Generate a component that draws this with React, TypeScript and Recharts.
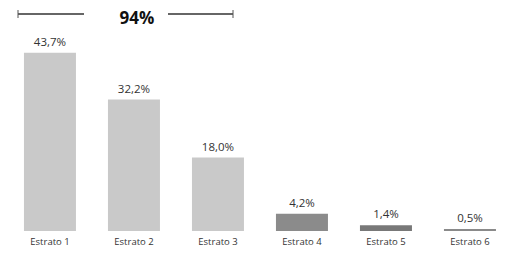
import React from 'react';
import { BarChart, Bar, XAxis, YAxis, LabelList, Cell } from 'recharts';

const categories = ['Estrato 1', 'Estrato 2', 'Estrato 3', 'Estrato 4', 'Estrato 5', 'Estrato 6'];
const shares = [43.7, 32.2, 18.0, 4.2, 1.4, 0.5];
const barColors = ['#c9c9c9', '#c9c9c9', '#c9c9c9', '#8b8b8b', '#787878', '#8a8a8a'];
const totalLabel = '94%';

const data = categories.map((name, i) => ({ name, value: shares[i] }));

const fmt = (v: any) => `${Number(v).toFixed(1).replace('.', ',')}%`;

const App: React.FC = () => {
  return (
    <div style={{ position: 'relative', width: 504, height: 248, fontFamily: '"Open Sans", sans-serif' }}>
      <BarChart width={504} height={248} data={data} barCategoryGap="19%"
        margin={{ top: 19, right: 0, bottom: 5, left: 0 }}>
        <XAxis dataKey="name" axisLine={false} tickLine={false} tickSize={0} tickMargin={7} height={20}
          interval={0} tick={{ fontSize: 9.5, fill: '#333' }} />
        <YAxis hide domain={[0, 50]} />
        <Bar dataKey="value" isAnimationActive={false}>
          {data.map((d, i) => <Cell key={d.name} fill={barColors[i]} />)}
          <LabelList dataKey="value" position="top" offset={7} formatter={fmt}
            style={{ fontSize: 11.5, fill: '#333' }} />
        </Bar>
      </BarChart>
      {/* bracket over the first three strata */}
      <svg width={504} height={48} style={{ position: 'absolute', left: 0, top: -8, pointerEvents: 'none' }}>
        <line x1={10} y1={14} x2={76} y2={14} stroke="#333" strokeWidth={1.5} />
        <line x1={10} y1={10} x2={10} y2={18} stroke="#555" strokeWidth={1} />
        <line x1={160} y1={14} x2={225} y2={14} stroke="#333" strokeWidth={1.5} />
        <line x1={225} y1={10} x2={225} y2={18} stroke="#555" strokeWidth={1} />
        <text x={129} y={24} textAnchor="middle" fontSize={17} fontWeight={700} fill="#111"
          fontFamily='"Open Sans", sans-serif'>
          {totalLabel}
        </text>
      </svg>
    </div>
  );
};

export default App;
